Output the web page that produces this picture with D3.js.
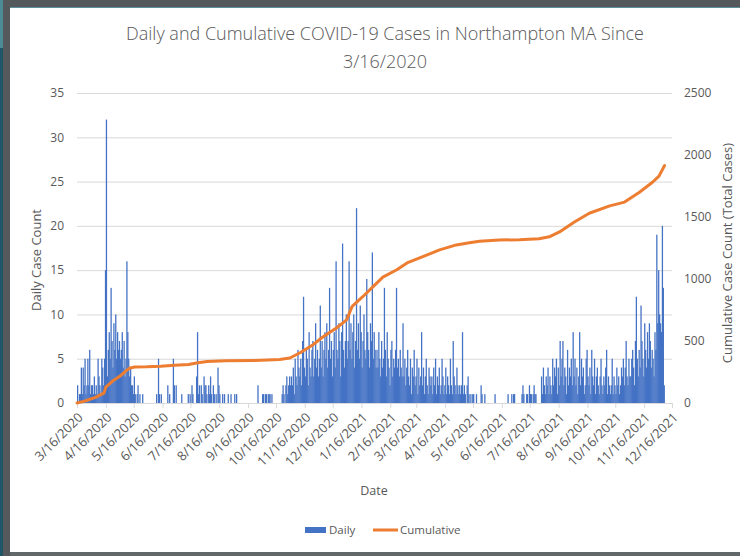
<!DOCTYPE html>
<html>
<head>
<meta charset="utf-8">
<script src="https://cdn.jsdelivr.net/npm/d3@7"></script>
<style>
  body { margin: 0; background: #1f5566; }
  svg { display: block; }
  text { font-family: "Open Sans", "DejaVu Sans", sans-serif; fill: #595959; }
</style>
</head>
<body>
<svg id="chart" width="740" height="556"></svg>
<script>
// first day of the daily series
const startDate = '3/16/2020';

// daily new cases, one value per day, grouped by month
const dailyCases = [
  // Mar 2020 (from the 16th)
  2, 0, 1, 1, 4, 1, 4, 2, 5, 1, 2, 5, 2, 6, 1, 2,
  // Apr 2020
  2, 1, 3, 1, 2, 1, 5, 3, 2, 1, 5, 4, 2, 5, 15, 32, 3, 6, 8, 5, 13, 7, 4, 9, 6, 10, 5, 8, 6, 7,
  // May 2020
  5, 6, 8, 4, 7, 3, 5, 16, 8, 5, 3, 4, 2, 2, 1, 3, 1, 0, 1, 2, 0, 1, 0, 0, 1, 0, 0, 0, 0, 0, 0,
  // Jun 2020
  0, 0, 0, 0, 0, 0, 0, 0, 1, 0, 5, 1, 0, 1, 0, 0, 0, 0, 0, 0, 2, 0, 1, 0, 0, 0, 5, 2, 0, 2,
  // Jul 2020
  0, 0, 0, 0, 0, 1, 0, 0, 0, 0, 0, 0, 1, 0, 1, 0, 2, 1, 0, 0, 0, 3, 8, 1, 2, 0, 2, 1, 0, 3, 2,
  // Aug 2020
  2, 1, 0, 2, 1, 3, 1, 0, 2, 1, 0, 1, 0, 4, 2, 1, 0, 0, 1, 0, 1, 0, 0, 0, 1, 0, 0, 1, 0, 0, 0,
  // Sep 2020
  1, 0, 1, 0, 0, 0, 0, 0, 0, 0, 0, 0, 0, 0, 0, 0, 0, 0, 0, 0, 0, 0, 0, 0, 0, 2, 0, 0, 0, 0,
  // Oct 2020
  1, 1, 0, 1, 1, 0, 1, 1, 1, 0, 1, 0, 0, 0, 0, 0, 0, 0, 0, 0, 0, 1, 2, 1, 0, 2, 3, 1, 2, 3, 2,
  // Nov 2020
  3, 2, 4, 1, 5, 3, 2, 6, 4, 3, 5, 2, 7, 12, 4, 3, 6, 5, 2, 8, 4, 3, 6, 7, 3, 5, 9, 4, 6, 3,
  // Dec 2020
  5, 11, 4, 7, 3, 6, 8, 5, 9, 4, 6, 13, 5, 7, 3, 6, 8, 4, 16, 6, 5, 9, 7, 3, 8, 18, 6, 4, 7, 10, 5,
  // Jan 2021
  7, 16, 6, 9, 5, 8, 10, 4, 7, 22, 6, 9, 5, 11, 8, 4, 7, 10, 6, 5, 14, 8, 6, 4, 9, 7, 17, 5, 8, 6, 4,
  // Feb 2021
  6, 4, 8, 5, 3, 7, 4, 5, 13, 6, 3, 8, 5, 4, 2, 6, 7, 3, 5, 4, 6, 13, 4, 5, 3, 6, 4, 3,
  // Mar 2021
  9, 3, 5, 2, 4, 6, 3, 2, 5, 1, 4, 3, 6, 2, 3, 5, 1, 4, 2, 3, 8, 2, 4, 1, 3, 5, 2, 1, 4, 3, 2,
  // Apr 2021
  3, 1, 4, 2, 5, 1, 3, 2, 4, 1, 2, 5, 3, 1, 2, 4, 1, 3, 2, 1, 5, 2, 1, 7, 3, 2, 1, 4, 2, 1,
  // May 2021
  2, 1, 2, 8, 1, 2, 1, 0, 2, 3, 1, 0, 1, 0, 1, 1, 0, 0, 1, 0, 0, 0, 0, 2, 1, 0, 0, 1, 0, 0, 0,
  // Jun 2021
  0, 0, 0, 0, 0, 0, 0, 1, 0, 0, 0, 0, 0, 0, 0, 0, 0, 0, 0, 0, 0, 1, 0, 0, 0, 1, 0, 1, 1, 0,
  // Jul 2021
  0, 0, 0, 0, 0, 0, 1, 2, 1, 0, 0, 1, 1, 0, 2, 1, 1, 0, 1, 2, 1, 1, 0, 0, 0, 0, 0, 3, 1, 4, 2,
  // Aug 2021
  1, 3, 2, 4, 1, 3, 2, 1, 5, 2, 4, 3, 5, 1, 4, 2, 7, 3, 5, 7, 2, 4, 3, 1, 6, 2, 4, 3, 5, 2, 8,
  // Sep 2021
  3, 5, 2, 4, 1, 3, 8, 2, 5, 3, 4, 1, 2, 5, 6, 3, 2, 4, 1, 6, 3, 2, 5, 1, 3, 4, 2, 1, 3, 5,
  // Oct 2021
  2, 1, 3, 2, 4, 6, 1, 3, 2, 1, 2, 5, 1, 3, 2, 1, 4, 2, 3, 1, 2, 4, 3, 5, 2, 4, 7, 3, 2, 5, 3,
  // Nov 2021
  3, 5, 6, 4, 2, 7, 12, 5, 3, 6, 4, 11, 7, 5, 3, 9, 6, 4, 8, 5, 9, 7, 4, 6, 5, 3, 8, 6, 19, 9,
  // Dec 2021
  15, 10, 9, 8, 20, 13, 2
];

// cumulative total
const cumDates = [
  '3/16/2020', '3/24/2020', '3/30/2020', '4/5/2020', '4/10/2020', '4/14/2020', '4/16/2020',
  '4/23/2020', '5/1/2020', '5/7/2020', '5/11/2020', '5/17/2020', '5/30/2020', '6/14/2020',
  '6/29/2020', '7/14/2020', '7/24/2020', '8/3/2020', '8/23/2020', '9/22/2020', '10/7/2020',
  '10/20/2020', '10/31/2020', '11/11/2020', '11/24/2020', '12/5/2020', '12/20/2020', '12/31/2020',
  '1/6/2021', '1/17/2021', '1/28/2021', '2/8/2021', '2/23/2021', '3/6/2021', '3/23/2021',
  '4/10/2021', '4/28/2021', '5/12/2021', '5/23/2021', '6/13/2021', '7/5/2021', '7/26/2021',
  '8/6/2021', '8/17/2021', '9/2/2021', '9/18/2021', '10/10/2021', '10/26/2021', '11/11/2021',
  '11/25/2021', '12/2/2021', '12/8/2021'
];
const cumValues = [
  0, 15, 30, 45, 65, 80, 128,
  175, 215, 255, 280, 290, 292, 297,
  305, 310, 325, 335, 340, 343, 346,
  350, 363, 405, 465, 530, 605, 670,
  780, 855, 935, 1015, 1075, 1130, 1180,
  1235, 1275, 1292, 1305, 1314, 1317, 1325,
  1340, 1380, 1460, 1530, 1590, 1620, 1700,
  1780, 1830, 1915
];

const xTickLabels = [
  '3/16/2020', '4/16/2020', '5/16/2020', '6/16/2020', '7/16/2020', '8/16/2020', '9/16/2020',
  '10/16/2020', '11/16/2020', '12/16/2020', '1/16/2021', '2/16/2021', '3/16/2021', '4/16/2021',
  '5/16/2021', '6/16/2021', '7/16/2021', '8/16/2021', '9/16/2021', '10/16/2021', '11/16/2021',
  '12/16/2021'
];
const leftTicks = [0, 5, 10, 15, 20, 25, 30, 35];
const rightTicks = [0, 500, 1000, 1500, 2000, 2500];

main();

function main () {
  const svg = d3.select('svg#chart');
  const parse = d3.timeParse('%m/%d/%Y');
  const fmt = d3.timeFormat('%-m/%-d/%Y');
  const left = 77, right = 672, top = 93, bottom = 403;

  drawFrame(svg);

  const start = parse(startDate);
  const x = d3.scaleTime()
    .domain([parse(xTickLabels[0]), parse(xTickLabels[xTickLabels.length - 1])])
    .range([left, right]);
  const yL = d3.scaleLinear().domain([0, 35]).range([bottom, top]);
  const yR = d3.scaleLinear().domain([0, 2500]).range([bottom, top]);

  // gridlines
  const grid = svg.append('g')
    .attr('transform', `translate(${left},0)`)
    .call(d3.axisLeft(yL).tickValues(leftTicks.slice(1)).tickSize(-(right - left)).tickFormat(''));
  grid.select('.domain').remove();
  grid.selectAll('line').attr('stroke', '#d9d9d9');

  // daily bars (a touch wider than one day so neighbours close up)
  const dayOf = i => d3.timeDay.offset(start, i);
  svg.append('g').selectAll('rect')
    .data(dailyCases)
    .join('rect')
    .attr('x', (d, i) => x(dayOf(i)))
    .attr('width', (d, i) => x(dayOf(i + 1)) - x(dayOf(i)) + 0.35)
    .attr('y', d => yL(d))
    .attr('height', d => yL(0) - yL(d))
    .attr('fill', '#4472c4');

  // x axis
  const xAxis = svg.append('g')
    .attr('transform', `translate(0,${bottom})`)
    .call(d3.axisBottom(x).tickValues(xTickLabels.map(parse)).tickFormat(fmt).tickSize(5).tickSizeOuter(0));
  xAxis.select('.domain').attr('stroke', '#d9d9d9');
  xAxis.selectAll('line').attr('stroke', '#d9d9d9');
  xAxis.selectAll('text')
    .attr('x', 0).attr('y', 0).attr('dy', '0.35em')
    .attr('transform', 'translate(3,12) rotate(-45)')
    .style('text-anchor', 'end')
    .style('font-size', '13px')
    .style('fill', '#595959');

  // cumulative line
  const pts = cumDates.map((d, i) => [parse(d), cumValues[i]]);
  svg.append('path')
    .datum(pts)
    .attr('fill', 'none')
    .attr('stroke', '#ed7d31')
    .attr('stroke-width', 3)
    .attr('stroke-linejoin', 'round')
    .attr('stroke-linecap', 'round')
    .attr('d', d3.line().x(d => x(d[0])).y(d => yR(d[1])));

  // y axes
  const la = svg.append('g')
    .attr('transform', `translate(${left},0)`)
    .call(d3.axisLeft(yL).tickValues(leftTicks).tickSize(0).tickPadding(13));
  la.select('.domain').remove();
  la.selectAll('text').style('font-size', '12px').style('fill', '#595959');

  const ra = svg.append('g')
    .attr('transform', `translate(${right},0)`)
    .call(d3.axisRight(yR).tickValues(rightTicks).tickFormat(d3.format('d')).tickSize(0).tickPadding(12));
  ra.select('.domain').remove();
  ra.selectAll('text').style('font-size', '12px').style('fill', '#595959');

  // titles
  svg.append('text').text('Daily and Cumulative COVID-19 Cases in Northampton MA Since')
    .attr('x', 385).attr('y', 40).attr('text-anchor', 'middle')
    .style('font-size', '18px').style('font-weight', 300);
  svg.append('text').text('3/16/2020')
    .attr('x', 385).attr('y', 68).attr('text-anchor', 'middle')
    .style('font-size', '18px').style('font-weight', 300);

  svg.append('text').text('Daily Case Count')
    .attr('transform', 'translate(41,260) rotate(-90)')
    .attr('text-anchor', 'middle').style('font-size', '13px');
  svg.append('text').text('Cumulative Case Count (Total Cases)')
    .attr('transform', 'translate(732,253) rotate(-90)')
    .attr('text-anchor', 'middle').style('font-size', '13px');
  svg.append('text').text('Date')
    .attr('x', 374).attr('y', 495).attr('text-anchor', 'middle').style('font-size', '12.5px');

  // legend
  svg.append('rect').attr('x', 305).attr('y', 527).attr('width', 21).attr('height', 6).attr('fill', '#4472c4');
  svg.append('text').text('Daily').attr('x', 329).attr('y', 534).style('font-size', '11.5px');
  svg.append('line').attr('x1', 373).attr('x2', 398).attr('y1', 530).attr('y2', 530)
    .attr('stroke', '#ed7d31').attr('stroke-width', 3);
  svg.append('text').text('Cumulative').attr('x', 400).attr('y', 534).style('font-size', '11.5px');
}

function drawFrame (svg) {
  svg.append('rect').attr('x', 0).attr('y', 0).attr('width', 740).attr('height', 556).attr('fill', '#1f5566');
  svg.append('rect').attr('x', 0).attr('y', 0).attr('width', 4).attr('height', 48).attr('fill', '#4d8a97');
  svg.append('rect').attr('x', 3).attr('y', 0).attr('width', 8).attr('height', 556).attr('fill', '#55595c');
  svg.append('rect').attr('x', 3).attr('y', 0).attr('width', 737).attr('height', 7).attr('fill', '#55595c');
  svg.append('rect').attr('x', 10).attr('y', 7).attr('width', 730).attr('height', 1).attr('fill', '#5f8f99');
  svg.append('rect').attr('x', 10).attr('y', 552).attr('width', 730).attr('height', 4).attr('fill', '#62676a');
  svg.append('rect').attr('x', 10).attr('y', 8).attr('width', 730).attr('height', 544).attr('fill', '#ffffff');
}
</script>
</body>
</html>
